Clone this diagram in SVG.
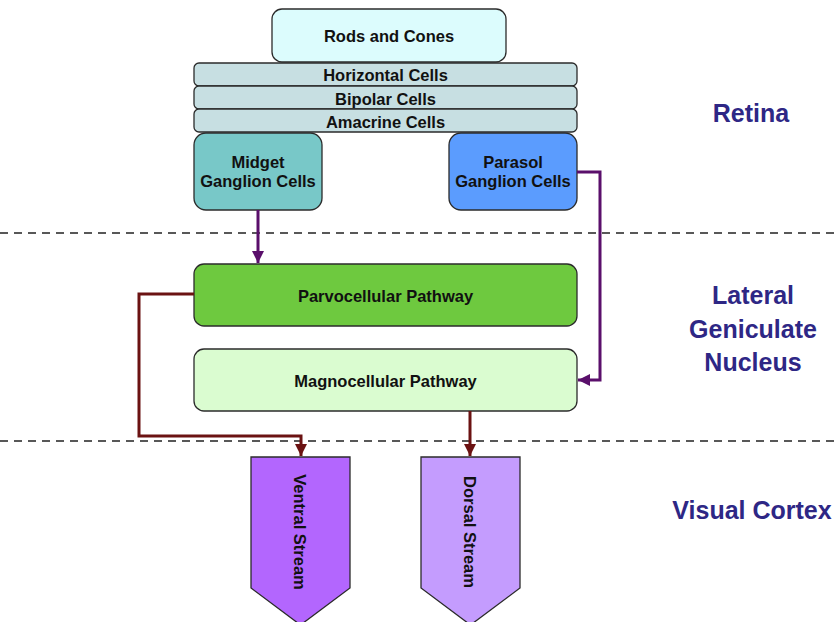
<svg xmlns="http://www.w3.org/2000/svg" width="834" height="622" viewBox="0 0 834 622">
<style>
.box{stroke:#2b2b2b;stroke-width:1.3}
.t{font-family:"Liberation Sans",Arial,sans-serif;font-weight:bold;font-size:16.5px;fill:#111;text-anchor:middle}
.lab{font-family:"Liberation Sans",Arial,sans-serif;font-weight:bold;font-size:25px;fill:#2e2785;text-anchor:middle}
.dash{stroke:#222;stroke-width:1.5;stroke-dasharray:8 6;fill:none}
.cp{stroke:#5a0f6b;stroke-width:3;fill:none}
.cb{stroke:#6b1212;stroke-width:3;fill:none}
</style>
<defs>
<marker id="ap" viewBox="0 0 10 10" refX="10" refY="5" markerWidth="4" markerHeight="4" markerUnits="strokeWidth" orient="auto"><path d="M0,0 L10,5 L0,10 z" fill="#5a0f6b"/></marker>
<marker id="ab" viewBox="0 0 10 10" refX="10" refY="5" markerWidth="4" markerHeight="4" markerUnits="strokeWidth" orient="auto"><path d="M0,0 L10,5 L0,10 z" fill="#6b1212"/></marker>
</defs>
<rect width="834" height="622" fill="#fff"/>
<g id="dividers">
<line class="dash" x1="0" y1="233" x2="834" y2="233"/>
<line class="dash" x1="0" y1="441" x2="834" y2="441"/>
</g>
<g id="rods"><rect class="box" x="272" y="9" width="234" height="53" rx="10" fill="#dcfcfd"/><text class="t" x="389" y="42">Rods and Cones</text></g>
<g id="horizontal"><rect class="box" x="194" y="63" width="383" height="23" rx="5" fill="#c7dfe2"/><text class="t" x="385.5" y="81">Horizontal Cells</text></g>
<g id="bipolar"><rect class="box" x="194" y="86" width="383" height="23" rx="5" fill="#c7dfe2"/><text class="t" x="385.5" y="105">Bipolar Cells</text></g>
<g id="amacrine"><rect class="box" x="194" y="109" width="383" height="23" rx="5" fill="#c7dfe2"/><text class="t" x="385.5" y="128">Amacrine Cells</text></g>
<g id="midget"><rect class="box" x="194" y="133" width="128" height="77" rx="12" fill="#78c8c8"/><text class="t" x="258" y="168">Midget</text><text class="t" x="258" y="187">Ganglion Cells</text></g>
<g id="parasol"><rect class="box" x="449" y="133" width="128" height="77" rx="12" fill="#5b9cfe"/><text class="t" x="513" y="168">Parasol</text><text class="t" x="513" y="187">Ganglion Cells</text></g>
<g id="parvo"><rect class="box" x="194" y="264" width="383" height="62" rx="10" fill="#6ec93f"/><text class="t" x="385.5" y="302">Parvocellular Pathway</text></g>
<g id="magno"><rect class="box" x="194" y="349" width="383" height="62" rx="10" fill="#dafcd0"/><text class="t" x="385.5" y="387">Magnocellular Pathway</text></g>
<g id="ventral"><polygon class="box" points="251,457 350,457 350,588 300.5,625 251,588" fill="#b366fe"/><text class="t" transform="translate(300,532) rotate(90)" dominant-baseline="central" y="0">Ventral Stream</text></g>
<g id="dorsal"><polygon class="box" points="421,457 520,457 520,588 470.5,625 421,588" fill="#c49cfe"/><text class="t" transform="translate(470,532) rotate(90)" dominant-baseline="central" y="0">Dorsal Stream</text></g>
<g id="connectors">
<path class="cp" d="M258,210 V263" marker-end="url(#ap)"/>
<path class="cp" d="M577,172 H600 V380 H578" marker-end="url(#ap)"/>
<path class="cb" d="M194,294 H139 V436 H301 V456" marker-end="url(#ab)"/>
<path class="cb" d="M470,411 V456" marker-end="url(#ab)"/>
</g>
<g id="labels">
<text class="lab" x="751" y="122">Retina</text>
<text class="lab" x="753" y="304">Lateral</text>
<text class="lab" x="753" y="338">Geniculate</text>
<text class="lab" x="753" y="371">Nucleus</text>
<text class="lab" x="752" y="519">Visual Cortex</text>
</g>
</svg>
